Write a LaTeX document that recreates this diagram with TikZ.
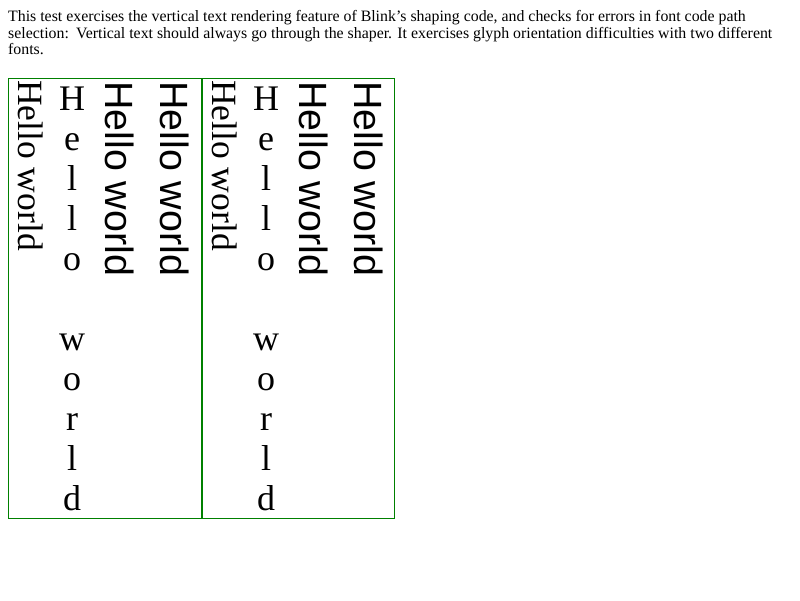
\documentclass[tikz,border=0pt]{standalone}
\usepackage{fontspec}
\setmainfont{Liberation Serif}
\newfontfamily\sansf{Liberation Sans}
\newfontfamily\serf{Liberation Serif}
\begin{document}
\begin{tikzpicture}[x=1pt,y=-1pt,
  hdr/.style={anchor=base west,inner sep=0pt,font=\fontsize{15.85}{17}\selectfont},
  frame/.style={draw=green!50!black,line width=1pt},
  rotserif/.style={anchor=base west,inner sep=0pt,rotate=-90,font=\serf\fontsize{35.5}{40}\selectfont},
  rotsans/.style={anchor=base west,inner sep=0pt,rotate=-90,font=\sansf\fontsize{39.4}{40}\selectfont},
  upr/.style={anchor=base,inner sep=0pt,font=\serf\fontsize{36}{40}\selectfont}]
\useasboundingbox[fill=white] (0,0) rectangle (800,600);
% header
\node[hdr] (l1) at (8,21) {This test exercises the vertical text rendering feature of Blink's shaping code, and checks for errors in font code path};
\node[hdr] (l2) at (8,38) {selection:\hspace{0.45em}Vertical text should always go through the shaper. It exercises glyph orientation difficulties with two different};
\node[hdr] (l3) at (8,54) {fonts.};
% frames
\draw[frame] (8.5,78.5) rectangle (201.5,518.5);
\draw[frame] (202.5,78.5) rectangle (394.5,518.5);
% columns
\foreach \off/\b in {0/a,194/b}{
  \node[rotserif] (s\b) at (18+\off,80) {Hello world};
  \node[rotsans] (p\b) at (105+\off,81) {Hello world};
  \node[rotsans] (q\b) at (160+\off,81) {Hello world};
  \foreach \ch/\yy [count=\i] in {H/110,e/150,l/190,l/230,o/270,w/350,o/390,r/430,l/470,d/510}{
    \node[upr] (u\b\i) at (72+\off,\yy) {\ch};
  }
}
\end{tikzpicture}
\end{document}
